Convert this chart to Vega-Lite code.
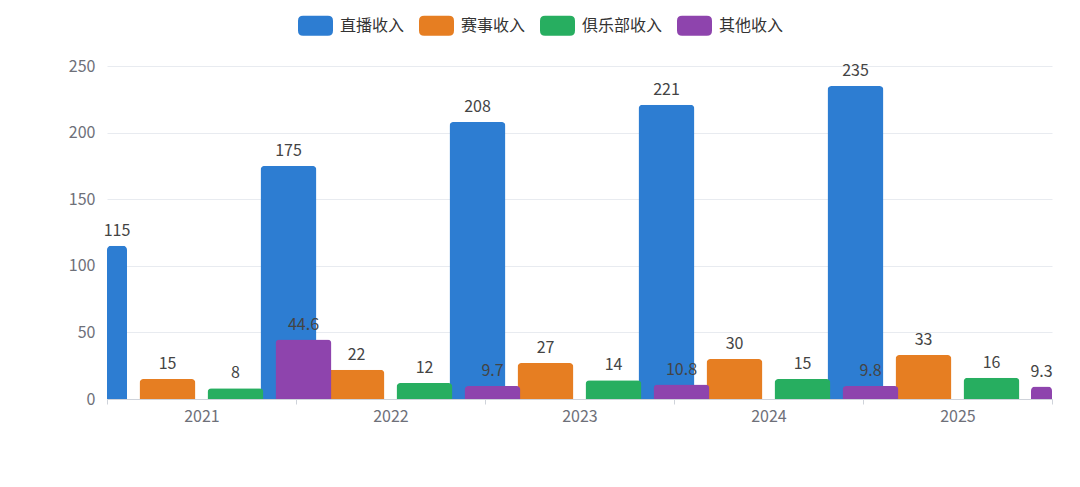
{
  "$schema": "https://vega.github.io/schema/vega-lite/v6.json",
  "width": 945,
  "height": 333,
  "autosize": {"type": "none"},
  "padding": {"left": 107, "top": 66, "right": 28, "bottom": 88},
  "data": {
    "values": [
      {"year": "2021", "series": "直播收入", "value": 115},
      {"year": "2022", "series": "直播收入", "value": 175},
      {"year": "2023", "series": "直播收入", "value": 208},
      {"year": "2024", "series": "直播收入", "value": 221},
      {"year": "2025", "series": "直播收入", "value": 235},
      {"year": "2021", "series": "赛事收入", "value": 15},
      {"year": "2022", "series": "赛事收入", "value": 22},
      {"year": "2023", "series": "赛事收入", "value": 27},
      {"year": "2024", "series": "赛事收入", "value": 30},
      {"year": "2025", "series": "赛事收入", "value": 33},
      {"year": "2021", "series": "俱乐部收入", "value": 8},
      {"year": "2022", "series": "俱乐部收入", "value": 12},
      {"year": "2023", "series": "俱乐部收入", "value": 14},
      {"year": "2024", "series": "俱乐部收入", "value": 15},
      {"year": "2025", "series": "俱乐部收入", "value": 16},
      {"year": "2021", "series": "其他收入", "value": 44.6},
      {"year": "2022", "series": "其他收入", "value": 9.7},
      {"year": "2023", "series": "其他收入", "value": 10.8},
      {"year": "2024", "series": "其他收入", "value": 9.8},
      {"year": "2025", "series": "其他收入", "value": 9.3}
    ]
  },
  "encoding": {
    "x": {
      "field": "year",
      "type": "ordinal",
      "title": null,
      "scale": {"paddingInner": 0, "paddingOuter": 0},
      "axis": {
        "tickBand": "extent",
        "labelAngle": 0,
        "grid": false,
        "domainColor": "#cfd3da",
        "tickColor": "#cfd3da",
        "tickSize": 5,
        "labelPadding": 4,
        "labelColor": "#6e7079",
        "labelFontSize": 16,
        "labelFont": "Noto Sans CJK SC"
      }
    },
    "y": {
      "field": "value",
      "type": "quantitative",
      "title": null,
      "scale": {"domain": [0, 250]},
      "axis": {
        "values": [0, 50, 100, 150, 200, 250],
        "domain": false,
        "ticks": false,
        "gridColor": "#e8ebf0",
        "labelPadding": 12,
        "labelColor": "#6e7079",
        "labelFontSize": 16,
        "labelFont": "Noto Sans CJK SC"
      }
    },
    "color": {
      "field": "series",
      "type": "nominal",
      "scale": {
        "domain": ["直播收入", "赛事收入", "俱乐部收入", "其他收入"],
        "range": ["#2d7dd2", "#e67e22", "#27ae60", "#8e44ad"]
      }
    }
  },
  "layer": [
    {
      "transform": [{"filter": "datum.series === '直播收入' && datum.year !== '2021'"}],
      "mark": {"type": "bar", "width": 56, "xOffset": -102, "cornerRadiusTopLeft": 4, "cornerRadiusTopRight": 4}
    },
    {
      "transform": [{"filter": "datum.series === '直播收入' && datum.year === '2021'"}],
      "mark": {"type": "bar", "width": 20, "xOffset": -84.5, "cornerRadiusTopLeft": 4, "cornerRadiusTopRight": 4}
    },
    {
      "transform": [{"filter": "datum.series === '赛事收入'"}],
      "mark": {"type": "bar", "width": 56, "xOffset": -34, "cornerRadiusTopLeft": 4, "cornerRadiusTopRight": 4}
    },
    {
      "transform": [{"filter": "datum.series === '俱乐部收入'"}],
      "mark": {"type": "bar", "width": 56, "xOffset": 34, "cornerRadiusTopLeft": 4, "cornerRadiusTopRight": 4}
    },
    {
      "transform": [{"filter": "datum.series === '其他收入' && datum.year !== '2025'"}],
      "mark": {"type": "bar", "width": 56, "xOffset": 102, "cornerRadiusTopLeft": 4, "cornerRadiusTopRight": 4}
    },
    {
      "transform": [{"filter": "datum.series === '其他收入' && datum.year === '2025'"}],
      "mark": {"type": "bar", "width": 21, "xOffset": 84, "cornerRadiusTopLeft": 4, "cornerRadiusTopRight": 4}
    },
    {
      "transform": [{"filter": "datum.series === '直播收入' && datum.year !== '2021'"}],
      "mark": {"type": "text", "xOffset": -102, "dy": -10, "baseline": "alphabetic", "fontSize": 16, "font": "Noto Sans CJK SC"},
      "encoding": {"text": {"field": "value"}, "color": {"value": "#444"}}
    },
    {
      "transform": [{"filter": "datum.series === '直播收入' && datum.year === '2021'"}],
      "mark": {"type": "text", "xOffset": -84.5, "dy": -10, "baseline": "alphabetic", "fontSize": 16, "font": "Noto Sans CJK SC"},
      "encoding": {"text": {"field": "value"}, "color": {"value": "#444"}}
    },
    {
      "transform": [{"filter": "datum.series === '赛事收入'"}],
      "mark": {"type": "text", "xOffset": -34, "dy": -10, "baseline": "alphabetic", "fontSize": 16, "font": "Noto Sans CJK SC"},
      "encoding": {"text": {"field": "value"}, "color": {"value": "#444"}}
    },
    {
      "transform": [{"filter": "datum.series === '俱乐部收入'"}],
      "mark": {"type": "text", "xOffset": 34, "dy": -10, "baseline": "alphabetic", "fontSize": 16, "font": "Noto Sans CJK SC"},
      "encoding": {"text": {"field": "value"}, "color": {"value": "#444"}}
    },
    {
      "transform": [{"filter": "datum.series === '其他收入' && datum.year !== '2025'"}],
      "mark": {"type": "text", "xOffset": 102, "dy": -10, "baseline": "alphabetic", "fontSize": 16, "font": "Noto Sans CJK SC"},
      "encoding": {"text": {"field": "value"}, "color": {"value": "#444"}}
    },
    {
      "transform": [{"filter": "datum.series === '其他收入' && datum.year === '2025'"}],
      "mark": {"type": "text", "xOffset": 84, "dy": -10, "baseline": "alphabetic", "fontSize": 16, "font": "Noto Sans CJK SC"},
      "encoding": {"text": {"field": "value"}, "color": {"value": "#444"}}
    }
  ],
  "config": {
    "view": {"stroke": null},
    "legend": {
      "orient": "none",
      "legendX": 191,
      "legendY": -58,
      "direction": "horizontal",
      "title": null,
      "padding": 0,
      "symbolType": "M-0.71,-0.57 L0.71,-0.57 Q1,-0.57 1,-0.28 L1,0.28 Q1,0.57 0.71,0.57 L-0.71,0.57 Q-1,0.57 -1,0.28 L-1,-0.28 Q-1,-0.57 -0.71,-0.57 Z",
      "symbolSize": 1225,
      "symbolStrokeWidth": 0,
      "symbolOpacity": 1,
      "labelFontSize": 16,
      "labelFont": "Noto Sans CJK SC",
      "labelColor": "#333",
      "labelOffset": 7,
      "columnPadding": 14
    }
  }
}
